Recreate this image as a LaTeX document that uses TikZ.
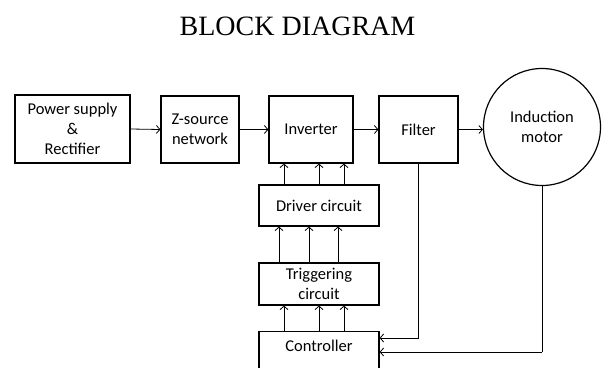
\documentclass[tikz,border=0pt]{standalone}
\usepackage{fontspec}
\setmainfont{Carlito}
\newfontfamily\titlefont{Liberation Serif}
\usetikzlibrary{arrows.meta}
\begin{document}
\begin{tikzpicture}[x=1pt,y=-1pt,
  blk/.style={draw,line width=1.2pt,align=center,inner sep=0pt,
    font=\fontsize{16.5}{20}\selectfont},
  flow/.style={line width=0.8pt,-{Straight Barb[length=3.5pt,width=8pt]}},
  wire/.style={line width=0.9pt}]
\useasboundingbox (0,0) rectangle (602,367);
\clip (0,0) rectangle (602,367);

% title
\node[font=\titlefont\fontsize{28}{32}\selectfont,anchor=base] (title) at (297.5,35) {BLOCK DIAGRAM};

% main power path
\node[blk,minimum width=115pt,minimum height=68pt] (ps) at (72.5,129) {Power supply\\\&\\Rectifier};
\node[blk,minimum width=78pt,minimum height=67pt] (zs) at (200,129.5) {Z-source\\network};
\node[blk,minimum width=84pt,minimum height=67pt] (inv) at (311,129.5) {Inverter};
\node[blk,minimum width=79pt,minimum height=67pt] (fil) at (418.5,129.5) {Filter};
\node[blk,circle,minimum size=117pt] (mot) at (542,127) {Induction\\motor};

% control chain
\node[blk,minimum width=120pt,minimum height=41pt] (drv) at (319,205.5) {Driver circuit};
\node[blk,minimum width=120pt,minimum height=42pt] (trg) at (319,284) {Triggering\\circuit};
\node[blk,minimum width=120pt,minimum height=42pt,anchor=north] (ctl) at (319,331) {};
\node[font=\fontsize{16.5}{20}\selectfont] (ctltext) at (319,346) {Controller};

% columns of the gate signal arrows
\coordinate (a1) at (284,0);
\coordinate (a2) at (319,0);
\coordinate (a3) at (344,0);
\coordinate (b1) at (279,0);
\coordinate (b2) at (309,0);
\coordinate (b3) at (338,0);
% feedback levels
\coordinate (f1) at (0,338);
\coordinate (f2) at (0,352);

% forward path
\draw[flow] (ps.east) -- (zs.west);
\draw[flow] (zs.east) -- (inv.west);
\draw[flow] (inv.east) -- (fil.west);
\draw[flow] (fil.east) -- (fil.east -| mot.west);

% gate signals
\foreach \c in {a1,a2,a3}{
  \draw[flow] (drv.north -| \c) -- (inv.south -| \c);
  \draw[flow] (ctl.north -| \c) -- (trg.south -| \c);
}
\foreach \c in {b1,b2,b3}{
  \draw[flow] (trg.north -| \c) -- (drv.south -| \c);
}

% feedback to the controller
\draw[wire] (fil.south) -- (fil.south |- f1);
\draw[flow] (fil.south |- f1) -- (ctl.east |- f1);
\draw[wire] (mot.south) -- (mot.south |- f2);
\draw[flow] (mot.south |- f2) -- (ctl.east |- f2);
\end{tikzpicture}
\end{document}
